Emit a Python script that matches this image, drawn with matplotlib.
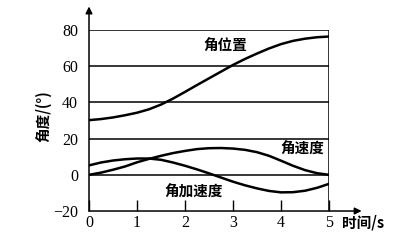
import numpy as np
import matplotlib.pyplot as plt

plt.rcParams['font.family'] = ['Liberation Serif', 'Noto Sans CJK SC']

# time axis (s), read at 0.25 s steps
t = [0, 0.25, 0.5, 0.75, 1, 1.25, 1.5, 1.75, 2, 2.25, 2.5,
     2.75, 3, 3.25, 3.5, 3.75, 4, 4.25, 4.5, 4.75, 5]

# angle position (deg)
position = [30.2, 30.8, 31.7, 32.9, 34.3, 36.2, 38.8, 42.1, 45.8, 49.6, 53.3,
            57.0, 60.7, 64.0, 67.0, 69.8, 72.2, 74.0, 75.2, 76.0, 76.4]
# angular velocity
velocity = [0.0, 1.2, 2.8, 4.6, 6.9, 8.8, 10.5, 12.0, 13.2, 14.2, 14.7,
            14.8, 14.5, 13.8, 12.5, 10.5, 7.8, 5.0, 2.6, 0.9, 0.0]
# angular acceleration
accel = [5.2, 6.8, 7.9, 8.6, 9.0, 9.0, 8.3, 6.8, 5.0, 3.0, 0.8,
         -1.5, -3.8, -5.8, -7.5, -8.9, -9.7, -9.6, -8.8, -7.2, -5.0]

yticks = [-20, 0, 20, 40, 60, 80]
xticks = [0, 1, 2, 3, 4, 5]

cjk = ['Noto Sans CJK SC', 'DejaVu Sans']

fig = plt.figure(figsize=(4.13, 2.47), dpi=100)
ax = fig.add_axes([0.2155, 0.1457, 0.5811, 0.7328])
ax.set_xlim(0, 5)
ax.set_ylim(-20, 80)
for s in ax.spines.values():
    s.set_visible(False)

# horizontal lines and right border
ax.hlines([0, 20, 40, 60, 80], 0, 5, color='black', lw=1.1)
ax.vlines(5, -20, 80, color='black', lw=1.1)

for y in (position, velocity, accel):
    ax.plot(t, y, color='black', lw=1.8, solid_capstyle='round')

# axes with arrows
ax.annotate('', xy=(0, 93), xytext=(0, -20), annotation_clip=False,
            arrowprops=dict(arrowstyle='-|>', color='black', lw=1.1,
                            mutation_scale=10, shrinkA=0, shrinkB=0))
ax.annotate('', xy=(5.68, -20), xytext=(0, -20), annotation_clip=False,
            arrowprops=dict(arrowstyle='-|>', color='black', lw=1.1,
                            mutation_scale=10, shrinkA=0, shrinkB=0))

ax.set_xticks(xticks)
ax.set_yticks(yticks)
ax.tick_params(axis='x', direction='in', length=8, width=1, pad=3, labelsize=11.5)
ax.tick_params(axis='y', length=0, pad=8, labelsize=11.5)

ax.text(2.84, 71.3, '角位置', family=cjk, weight='bold', fontsize=10.5,
        ha='center', va='center')
ax.text(4.45, 14.3, '角速度', family=cjk, weight='bold', fontsize=10.5,
        ha='center', va='center')
ax.text(2.17, -9.3, '角加速度', family=cjk, weight='bold', fontsize=10.5,
        ha='center', va='center')

fig.text(43 / 413, 1 - 116 / 247, '角度/(°)', family=cjk, weight='bold',
         fontsize=10.5, rotation=90, ha='center', va='center')
fig.text(342 / 413, 1 - 222 / 247, '时间/s', family=cjk, weight='bold',
         fontsize=10.5, ha='left', va='center')

fig.savefig('out.png', dpi=100)
